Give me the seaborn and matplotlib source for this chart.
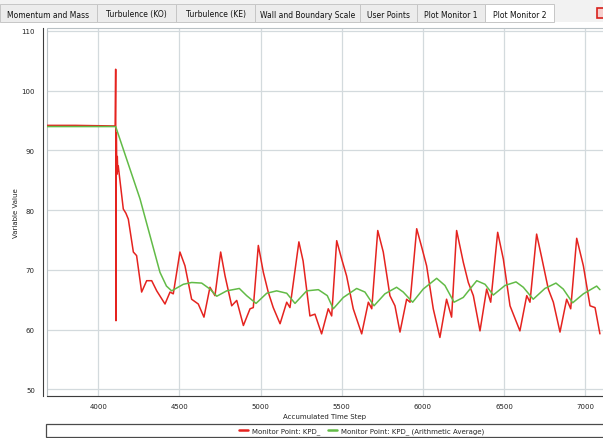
import matplotlib
matplotlib.use("Agg")
import matplotlib.pyplot as plt
from matplotlib.patches import Rectangle
from matplotlib.ticker import MultipleLocator
import seaborn as sns

W, H = 603, 439

# monitor point values
red_steps = [3682, 3860, 4104, 4107, 4109, 4111, 4114, 4117, 4120, 4123,
             4154, 4170, 4185, 4216, 4236, 4267, 4298, 4329, 4360, 4411,
             4442, 4462, 4503, 4534, 4575, 4616, 4651, 4688, 4719, 4754,
             4781, 4822, 4853, 4894, 4935, 4955, 4986, 5017, 5047, 5078,
             5120, 5161, 5181, 5236, 5262, 5304, 5335, 5376, 5417, 5438,
             5469, 5500, 5530, 5571, 5623, 5664, 5685, 5722, 5756, 5797,
             5828, 5859, 5900, 5921, 5962, 5993, 6023, 6064, 6105, 6146,
             6177, 6208, 6249, 6280, 6311, 6352, 6393, 6418, 6461, 6496,
             6537, 6598, 6640, 6660, 6701, 6732, 6773, 6804, 6845, 6886,
             6911, 6948, 6989, 7030, 7061, 7091]
red_values = [94.2, 94.2, 94.1, 103.6, 61.5, 93.0, 86.0, 89.0, 86.5, 87.4,
              80.2, 79.5, 78.5, 73.0, 72.4, 66.3, 68.2, 68.2, 66.5, 64.3,
              66.3, 66.0, 73.0, 70.7, 65.1, 64.3, 62.1, 67.1, 65.7, 73.0,
              69.0, 64.0, 64.9, 60.7, 63.5, 63.7, 74.1, 69.6, 66.3, 63.7,
              61.0, 64.6, 63.7, 74.7, 71.5, 62.3, 62.6, 59.3, 63.5, 62.3,
              74.9, 71.8, 69.0, 63.5, 59.3, 64.6, 63.5, 76.6, 73.0, 65.7,
              64.0, 59.6, 65.1, 64.6, 76.9, 73.8, 70.7, 63.5, 58.7, 65.1,
              62.1, 76.6, 71.3, 67.9, 65.7, 59.8, 66.8, 64.6, 76.3, 71.8,
              64.0, 59.8, 65.7, 64.6, 76.0, 72.1, 66.8, 64.6, 59.6, 65.1,
              63.5, 75.3, 70.7, 64.0, 63.7, 59.3]

# arithmetic average
green_steps = [3682, 4107, 4257, 4380, 4420, 4452, 4524, 4575, 4637, 4688,
               4730, 4791, 4869, 4914, 4972, 5038, 5099, 5161, 5212, 5284,
               5356, 5411, 5448, 5510, 5592, 5643, 5699, 5766, 5838, 5879,
               5937, 6002, 6085, 6136, 6192, 6249, 6290, 6332, 6383, 6434,
               6506, 6574, 6619, 6680, 6752, 6820, 6865, 6923, 6989, 7071,
               7091]
green_values = [94.0, 94.0, 81.9, 69.6, 67.3, 66.5, 67.6, 67.9, 67.8, 66.8,
                65.6, 66.5, 66.9, 65.7, 64.4, 66.1, 66.5, 66.1, 64.4, 66.5,
                66.7, 65.7, 63.5, 65.4, 66.9, 66.3, 64.0, 66.0, 67.1, 66.3,
                64.6, 66.8, 68.6, 67.4, 64.6, 65.4, 66.8, 68.2, 67.6, 65.8,
                67.4, 68.0, 67.1, 65.1, 66.9, 67.8, 66.8, 64.5, 66.0, 67.3,
                66.7]

tab_names = ["Momentum and Mass", "Turbulence (KO)", "Turbulence (KE)",
             "Wall and Boundary Scale", "User Points", "Plot Monitor 1",
             "Plot Monitor 2"]
tab_edges = [0, 97, 176, 255, 360, 417, 485, 554]

RED = "#e5231f"
GREEN = "#62bb47"

sns.set_style("white")
plt.rcParams['font.family'] = ['DejaVu Sans']


def fx(px):
    return px / W


def fy(py):
    return 1 - py / H


fig = plt.figure(figsize=(W / 100, H / 100), dpi=100)
fig.patch.set_facecolor("white")

# tab strip
fig.patches.append(Rectangle((0, fy(23)), 1, 23 / H, transform=fig.transFigure,
                             facecolor="#f2f2f2", edgecolor="none"))
for i, name in enumerate(tab_names):
    x0, x1 = tab_edges[i], tab_edges[i + 1]
    selected = name == "Plot Monitor 2"
    fig.patches.append(Rectangle((fx(x0), fy(23)), fx(x1 - x0), 18.5 / H,
                                 transform=fig.transFigure,
                                 facecolor="white" if selected else "#ececec",
                                 edgecolor="#c6c6c6", lw=0.7))
    fig.text(fx((x0 + x1) / 2), fy(15), name, fontsize=5.5, color="#111111",
             ha="center", va="center")
fig.patches.append(Rectangle((fx(597), fy(19)), fx(10), 10 / H,
                             transform=fig.transFigure, facecolor="#f6d0cf",
                             edgecolor="#d8201c", lw=1.2))

ax = fig.add_axes([fx(46.7), fy(396.7), 1 - fx(46.7), (396.7 - 29) / H])
sns.lineplot(x=red_steps, y=red_values, color=RED, lw=1.1, sort=False,
             estimator=None, label="Monitor Point: KPD_", ax=ax)
sns.lineplot(x=green_steps, y=green_values, color=GREEN, lw=1.1, sort=False,
             estimator=None, label="Monitor Point: KPD_ (Arithmetic Average)", ax=ax)

ax.set_xlim(3682, 7110)
ax.set_ylim(48.95, 110.5)
ax.set_xticks(list(range(4000, 7001, 500)))
ax.set_yticks(list(range(50, 111, 10)))
ax.xaxis.set_minor_locator(MultipleLocator(100))
ax.yaxis.set_minor_locator(MultipleLocator(2))
ax.grid(True, which="major", color="#d3dadd", lw=0.9)

for side in ["top", "right"]:
    ax.spines[side].set_visible(False)
ax.spines["left"].set_position(("outward", 2.5))
ax.spines["left"].set_color("#3c3c3c")
ax.spines["bottom"].set_color("#3c3c3c")
ax.spines["left"].set_linewidth(0.8)
ax.spines["bottom"].set_linewidth(0.8)
ax.add_patch(Rectangle((0, 0), 1.02, 1, transform=ax.transAxes, fill=False,
                       edgecolor="#b9c1c5", lw=0.8, clip_on=False))

ax.tick_params(axis="y", which="major", direction="out", length=3, width=0.8,
               color="#3c3c3c", labelsize=5, labelcolor="#222222", pad=3)
ax.tick_params(axis="y", which="minor", direction="out", length=1.6, width=0.7,
               color="#3c3c3c")
ax.tick_params(axis="x", which="major", direction="inout", length=4, width=0.8,
               color="#3c3c3c", labelsize=5, labelcolor="#222222", pad=3)
ax.tick_params(axis="x", which="minor", direction="inout", length=2, width=0.7,
               color="#3c3c3c")
ax.set_xlabel("Accumulated Time Step", fontsize=5, color="#222222", labelpad=3)
ax.set_ylabel("Variable Value", fontsize=5, color="#222222", labelpad=2)

handles, labels = ax.get_legend_handles_labels()
ax.get_legend().remove()
fig.patches.append(Rectangle((fx(45.7), fy(438)), 1, 12.7 / H,
                             transform=fig.transFigure, facecolor="white",
                             edgecolor="#4a4a4a", lw=0.9))
leg = fig.legend(handles, labels, loc="center", bbox_to_anchor=(fx(361.5), fy(432)),
                 ncol=2, frameon=False, fontsize=5, handlelength=1.3,
                 handletextpad=0.6, columnspacing=1.1, borderpad=0)
for line in leg.get_lines():
    line.set_linewidth(1.8)

fig.savefig("out.png", dpi=100)
